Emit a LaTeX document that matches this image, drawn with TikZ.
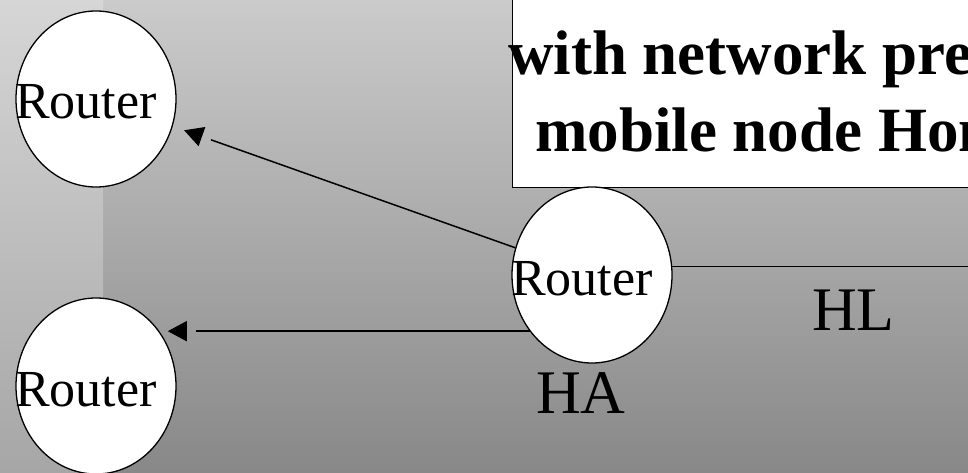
\documentclass[tikz,border=0pt]{standalone}
\usepackage{fontspec}
\setmainfont{Liberation Serif}
\usetikzlibrary{arrows.meta,shapes.geometric}
\definecolor{stripTop}{RGB}{214,214,214}
\definecolor{stripBottom}{RGB}{166,166,166}
\definecolor{fieldTop}{RGB}{203,203,203}
\definecolor{fieldBottom}{RGB}{136,136,136}
% router caption sits a little left of the ellipse centre and takes no room
\newcommand\routername[1]{\makebox[0pt]{#1\hspace*{20pt}}}
\begin{document}
\begin{tikzpicture}[x=1pt,y=-1pt,
  routerbox/.style={ellipse, draw=black, line width=1.3pt, fill=white,
    minimum width=160pt, minimum height=176pt, inner sep=0pt,
    font=\fontsize{52}{60}\selectfont, text height=40pt, text depth=0pt},
  link/.style={draw=black, line width=1.5pt},
  arrowlink/.style={link, {Triangle[length=19pt,width=20pt]}-,
    dash pattern=on 0pt off 10pt on 2000pt off 10pt},
  caption/.style={font=\fontsize{62}{70}\selectfont, inner sep=0pt, anchor=base west},
  heading/.style={font=\bfseries\fontsize{63}{76}\selectfont, inner sep=0pt, anchor=base west}
]
\useasboundingbox (0,0) rectangle (968,473);
\clip (0,0) rectangle (968,473);

% backdrop: main field and lighter strip on the left
\shade[top color=fieldTop, bottom color=fieldBottom] (103,0) rectangle (968,473);
\shade[top color=stripTop, bottom color=stripBottom] (0,0) rectangle (103,473);

% heading panel
\node[draw=black, line width=1.3pt, fill=white, inner sep=0pt,
      minimum width=600pt, minimum height=230pt, anchor=south west] (note) at (512,188) {};
\node[heading] (h1) at (508,75) {with network pre};
\node[heading] (h2) at (535,152) {mobile node Hom};

% routers
\node[routerbox] (r1) at (96,99) {\routername{Router}};
\node[routerbox] (r2) at (592,275) {\routername{Router}};
\node[routerbox] (r3) at (96,386) {\routername{Router}};

% links
\draw[arrowlink, shorten <=12pt] (r1) -- (r2);
\draw[arrowlink, shorten <=8.5pt] (r2.222 -| r3.41) -- (r2.222);
\coordinate (rim) at (975,0);
\draw[link] (r2.6.5) -- (r2.6.5 -| rim);

% labels
\node[caption] (ha) at (536,413) {HA};
\node[caption] (hl) at (812,330) {HL};
\end{tikzpicture}
\end{document}
